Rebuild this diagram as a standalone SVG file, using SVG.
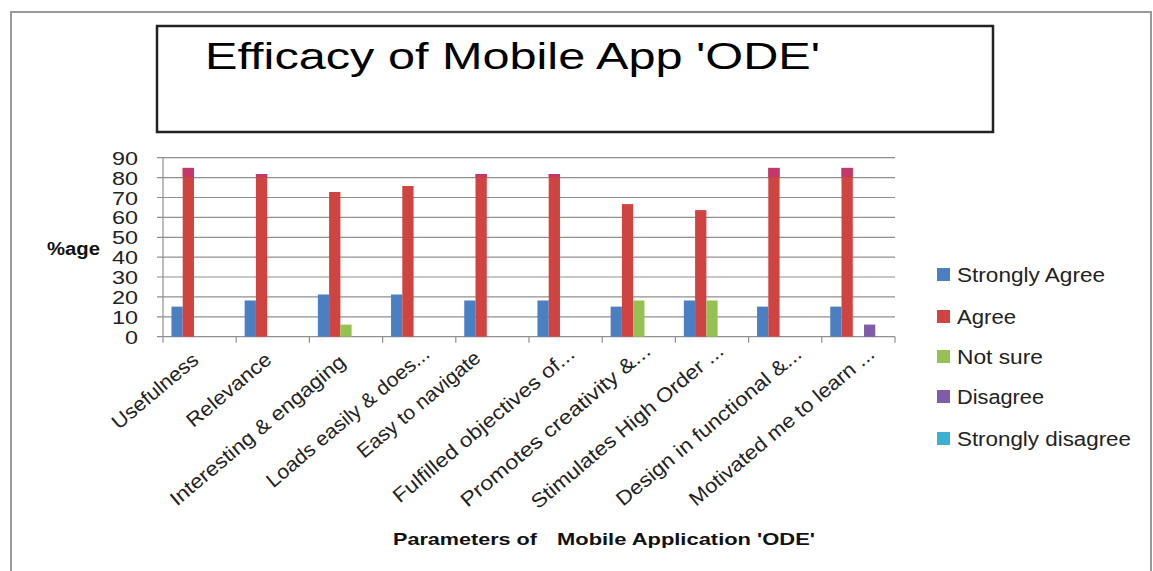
<svg xmlns="http://www.w3.org/2000/svg" width="1153" height="571" viewBox="0 0 1153 571">
<style>
.grid{stroke:#8f8f8f;stroke-width:1.2;fill:none}
.axis{stroke:#8f8f8f;stroke-width:1.2;fill:none}
.sa{fill:#4a7fc1}
.ag{fill:#cf4340}
.ns{fill:#95c153}
.dg{fill:#7e5ca8}
.sd{fill:#3cb0d0}
.pk{fill:#c2386a}
.tick{font-family:"Liberation Sans",Arial,sans-serif;font-size:19px;fill:#222;text-anchor:end}
.cat{font-family:"Liberation Sans",Arial,sans-serif;font-size:20px;fill:#222;text-anchor:end}
.leg{font-family:"Liberation Sans",Arial,sans-serif;font-size:20px;fill:#222}
.bold{font-family:"Liberation Sans",Arial,sans-serif;font-weight:bold;fill:#111}
</style>
<rect x="0" y="0" width="1153" height="571" fill="#ffffff"/>
<rect id="outer-border" x="11" y="12" width="1140" height="580" fill="none" stroke="#9a9a9a" stroke-width="2"/>
<g id="title">
<rect x="157" y="26" width="836" height="106" fill="#ffffff" stroke="#222" stroke-width="2.5"/>
<text x="205" y="69" font-family="'Liberation Sans',Arial,sans-serif" font-size="36" fill="#000" textLength="615" lengthAdjust="spacingAndGlyphs">Efficacy of Mobile App 'ODE'</text>
</g>
<g id="gridlines">
<line class="grid" x1="157" y1="157.7" x2="895" y2="157.7"/>
<line class="grid" x1="157" y1="177.6" x2="895" y2="177.6"/>
<line class="grid" x1="157" y1="197.5" x2="895" y2="197.5"/>
<line class="grid" x1="157" y1="217.4" x2="895" y2="217.4"/>
<line class="grid" x1="157" y1="237.3" x2="895" y2="237.3"/>
<line class="grid" x1="157" y1="257.1" x2="895" y2="257.1"/>
<line class="grid" x1="157" y1="277.0" x2="895" y2="277.0"/>
<line class="grid" x1="157" y1="296.9" x2="895" y2="296.9"/>
<line class="grid" x1="157" y1="316.8" x2="895" y2="316.8"/>
</g>
<g id="axes">
<line class="axis" x1="163" y1="157.7" x2="163" y2="336.7"/>
<line class="axis" x1="157" y1="336.7" x2="895" y2="336.7"/>
<path class="axis" d="M163 336.7v6M236.2 336.7v6M309.4 336.7v6M382.6 336.7v6M455.8 336.7v6M529 336.7v6M602.2 336.7v6M675.4 336.7v6M748.6 336.7v6M821.8 336.7v6M895 336.7v6"/>
</g>
<g id="y-labels">
<text class="tick" x="138" y="164.7" textLength="26" lengthAdjust="spacingAndGlyphs">90</text>
<text class="tick" x="138" y="184.6" textLength="26" lengthAdjust="spacingAndGlyphs">80</text>
<text class="tick" x="138" y="204.5" textLength="26" lengthAdjust="spacingAndGlyphs">70</text>
<text class="tick" x="138" y="224.4" textLength="26" lengthAdjust="spacingAndGlyphs">60</text>
<text class="tick" x="138" y="244.3" textLength="26" lengthAdjust="spacingAndGlyphs">50</text>
<text class="tick" x="138" y="264.1" textLength="26" lengthAdjust="spacingAndGlyphs">40</text>
<text class="tick" x="138" y="284.0" textLength="26" lengthAdjust="spacingAndGlyphs">30</text>
<text class="tick" x="138" y="303.9" textLength="26" lengthAdjust="spacingAndGlyphs">20</text>
<text class="tick" x="138" y="323.8" textLength="26" lengthAdjust="spacingAndGlyphs">10</text>
<text class="tick" x="138" y="343.7" textLength="13" lengthAdjust="spacingAndGlyphs">0</text>
</g>
<text id="y-title" class="bold" x="47" y="255" font-size="18" textLength="53" lengthAdjust="spacingAndGlyphs">%age</text>
<g id="bars-strongly-agree">
<rect class="sa" x="171.45" y="306.6" width="11.26" height="30.1"/>
<rect class="sa" x="244.65" y="300.5" width="11.26" height="36.2"/>
<rect class="sa" x="317.85" y="294.5" width="11.26" height="42.2"/>
<rect class="sa" x="391.05" y="294.5" width="11.26" height="42.2"/>
<rect class="sa" x="464.25" y="300.5" width="11.26" height="36.2"/>
<rect class="sa" x="537.45" y="300.5" width="11.26" height="36.2"/>
<rect class="sa" x="610.65" y="306.6" width="11.26" height="30.1"/>
<rect class="sa" x="683.85" y="300.5" width="11.26" height="36.2"/>
<rect class="sa" x="757.05" y="306.6" width="11.26" height="30.1"/>
<rect class="sa" x="830.25" y="306.6" width="11.26" height="30.1"/>
</g>
<g id="bars-agree">
<rect class="ag" x="182.71" y="167.9" width="11.26" height="168.8"/>
<rect class="ag" x="255.91" y="174.0" width="11.26" height="162.7"/>
<rect class="ag" x="329.11" y="192.0" width="11.26" height="144.7"/>
<rect class="ag" x="402.31" y="186.0" width="11.26" height="150.7"/>
<rect class="ag" x="475.51" y="174.0" width="11.26" height="162.7"/>
<rect class="ag" x="548.71" y="174.0" width="11.26" height="162.7"/>
<rect class="ag" x="621.91" y="204.1" width="11.26" height="132.6"/>
<rect class="ag" x="695.11" y="210.1" width="11.26" height="126.6"/>
<rect class="ag" x="768.31" y="167.9" width="11.26" height="168.8"/>
<rect class="ag" x="841.51" y="167.9" width="11.26" height="168.8"/>
<rect class="pk" x="182.71" y="167.9" width="11.26" height="9.2"/>
<rect class="pk" x="255.91" y="174.0" width="11.26" height="3.1"/>
<rect class="pk" x="475.51" y="174.0" width="11.26" height="3.1"/>
<rect class="pk" x="548.71" y="174.0" width="11.26" height="3.1"/>
<rect class="pk" x="768.31" y="167.9" width="11.26" height="9.2"/>
<rect class="pk" x="841.51" y="167.9" width="11.26" height="9.2"/>
</g>
<g id="bars-not-sure">
<rect class="ns" x="340.37" y="324.6" width="11.26" height="12.1"/>
<rect class="ns" x="633.17" y="300.5" width="11.26" height="36.2"/>
<rect class="ns" x="706.37" y="300.5" width="11.26" height="36.2"/>
</g>
<g id="bars-disagree">
<rect class="dg" x="864.03" y="324.6" width="11.26" height="12.1"/>
</g>
<g id="x-labels">
<text class="cat" transform="translate(200,362) rotate(-40)" textLength="106" lengthAdjust="spacingAndGlyphs">Usefulness</text>
<text class="cat" transform="translate(273,361.5) rotate(-40)" textLength="104" lengthAdjust="spacingAndGlyphs">Relevance</text>
<text class="cat" transform="translate(347,364) rotate(-40)" textLength="222" lengthAdjust="spacingAndGlyphs">Interesting &amp; engaging</text>
<text class="cat" transform="translate(431,356) rotate(-40)" textLength="206" lengthAdjust="spacingAndGlyphs">Loads easily &amp; does...</text>
<text class="cat" transform="translate(482,360) rotate(-40)" textLength="154" lengthAdjust="spacingAndGlyphs">Easy to navigate</text>
<text class="cat" transform="translate(576,356) rotate(-40)" textLength="230" lengthAdjust="spacingAndGlyphs">Fulfilled objectives of...</text>
<text class="cat" transform="translate(652,353) rotate(-40)" textLength="241" lengthAdjust="spacingAndGlyphs">Promotes creativity &amp;...</text>
<text class="cat" transform="translate(725,353) rotate(-40)" textLength="244" lengthAdjust="spacingAndGlyphs">Stimulates High Order ...</text>
<text class="cat" transform="translate(803,356) rotate(-40)" textLength="235" lengthAdjust="spacingAndGlyphs">Design in functional &amp;...</text>
<text class="cat" transform="translate(876,356) rotate(-40)" textLength="235" lengthAdjust="spacingAndGlyphs">Motivated me to learn ...</text>
</g>
<g id="x-title">
<text class="bold" x="393" y="545" font-size="17" textLength="144" lengthAdjust="spacingAndGlyphs">Parameters of</text>
<text class="bold" x="557" y="545" font-size="17" textLength="258" lengthAdjust="spacingAndGlyphs">Mobile Application 'ODE'</text>
</g>
<g id="legend">
<g id="legend-strongly-agree"><rect class="sa" x="937" y="268" width="13" height="13"/><text class="leg" x="957" y="282" textLength="148" lengthAdjust="spacingAndGlyphs">Strongly Agree</text></g>
<g id="legend-agree"><rect class="ag" x="937" y="310" width="13" height="13"/><text class="leg" x="957" y="324" textLength="59" lengthAdjust="spacingAndGlyphs">Agree</text></g>
<g id="legend-not-sure"><rect class="ns" x="937" y="350" width="13" height="13"/><text class="leg" x="957" y="364" textLength="86" lengthAdjust="spacingAndGlyphs">Not sure</text></g>
<g id="legend-disagree"><rect class="dg" x="937" y="390" width="13" height="13"/><text class="leg" x="957" y="404" textLength="87" lengthAdjust="spacingAndGlyphs">Disagree</text></g>
<g id="legend-strongly-disagree"><rect class="sd" x="937" y="432" width="13" height="13"/><text class="leg" x="957" y="446" textLength="174" lengthAdjust="spacingAndGlyphs">Strongly disagree</text></g>
</g>
</svg>
